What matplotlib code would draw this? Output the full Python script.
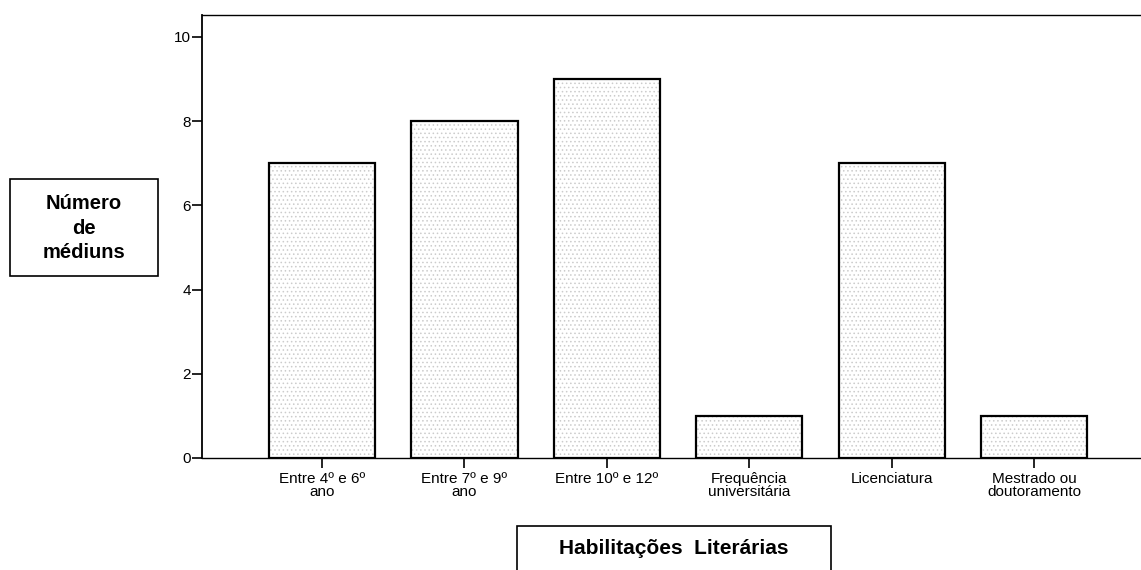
import matplotlib
matplotlib.use("Agg")
import matplotlib.pyplot as plt
from matplotlib.patches import Rectangle

# Habilitações literárias dos médiuns
categories = [
    "Entre 4º e 6º\nano",
    "Entre 7º e 9º\nano",
    "Entre 10º e 12º",
    "Frequência\nuniversitária",
    "Licenciatura",
    "Mestrado ou\ndoutoramento",
]
counts = [7, 8, 9, 1, 7, 1]
yticks = [0, 2, 4, 6, 8, 10]

plt.rcParams["font.family"] = ["Liberation Sans", "DejaVu Sans"]
plt.rcParams["hatch.linewidth"] = 0.6

fig = plt.figure(figsize=(11.41, 5.70), dpi=100)
ax = fig.add_axes([0.177, 0.1965, 0.823, 0.777])

x = list(range(len(categories)))
# stippled fill, then black outline on top
ax.bar(x, counts, width=0.745, color="white", edgecolor="#cccccc",
       hatch="....", linewidth=0)
ax.bar(x, counts, width=0.745, fill=False, edgecolor="black", linewidth=1.6)

ax.set_xlim(-0.843, 5.75)
ax.set_ylim(0, 10.52)
ax.set_xticks(x)
ax.set_xticklabels(categories, fontsize=11, linespacing=0.9)
ax.set_yticks(yticks)
ax.set_yticklabels([str(v) for v in yticks], fontsize=11)
ax.tick_params(axis="both", direction="out", length=7, width=1.2, colors="black")
ax.tick_params(axis="x", pad=3)
ax.tick_params(axis="y", pad=1)

ax.spines["right"].set_visible(False)
ax.spines["left"].set_linewidth(1.3)
ax.spines["bottom"].set_linewidth(1.0)
ax.spines["top"].set_linewidth(1.0)

W, H = 1141, 570


def label_box(x0, y0, x1, y1, cy, text, size, spacing=1.12):
    # coordinates in pixels from top-left
    fig.patches.append(Rectangle((x0 / W, 1 - y1 / H), (x1 - x0) / W, (y1 - y0) / H,
                                 transform=fig.transFigure, fill=False,
                                 edgecolor="black", linewidth=1.2))
    fig.text((x0 + x1) / 2 / W, 1 - cy / H, text, ha="center",
             va="center", fontsize=size, fontweight="bold", linespacing=spacing)


label_box(10, 179, 158, 276, 228, "Número\nde\nmédiuns", 14.5, spacing=1.38)
label_box(517, 526, 831, 575, 549, "Habilitações  Literárias", 15)

fig.savefig("out.png", dpi=100)
